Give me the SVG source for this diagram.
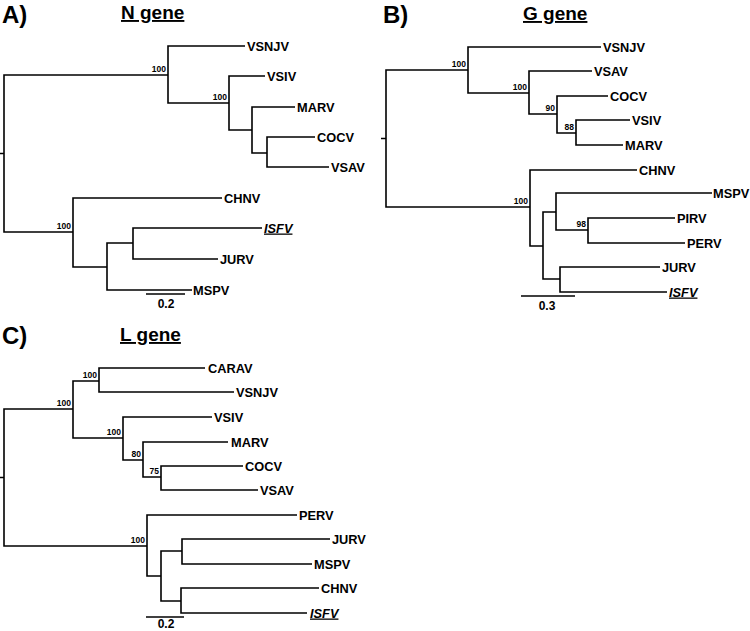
<svg xmlns="http://www.w3.org/2000/svg" width="750" height="631" viewBox="0 0 750 631">
<style>
text{font-family:"Liberation Sans",Arial,sans-serif;font-weight:bold;fill:#000}
.br{fill:none;stroke:#000;stroke-width:1.6}
.lf{font-size:12.8px}
.bs{font-size:8.5px;text-anchor:end}
.pl{font-size:24px}
.tt{font-size:19px;text-decoration:underline}
.it{font-style:italic;text-decoration:underline}
.sc{font-size:12px;text-anchor:middle}
</style>
<rect width="750" height="631" fill="#fff"/>
<g id="panelA">
<text class="pl" x="2" y="23">A)</text>
<text class="tt" x="121" y="19">N gene</text>
<g id="connectorsA">
<path class="br" d="M0 153.5H4M73 232H4V75H168M245 46H168V103H229M265 76H229V130H252M295 107H252V153H267M315 137H267V167H329M222 198H73V267H107M133 243H107V290H192M262 228H133V259H218"/>
<path class="br" d="M146 294H185"/>
</g>
<g id="bootA"><text class="bs" x="166" y="72">100</text><text class="bs" x="227" y="100">100</text><text class="bs" x="71" y="229">100</text></g>
<g id="A-VSNJV"><text class="lf" x="247" y="50.5">VSNJV</text></g>
<g id="A-VSIV"><text class="lf" x="267" y="80.5">VSIV</text></g>
<g id="A-MARV"><text class="lf" x="297" y="111.5">MARV</text></g>
<g id="A-COCV"><text class="lf" x="317" y="141.5">COCV</text></g>
<g id="A-VSAV"><text class="lf" x="331" y="171.5">VSAV</text></g>
<g id="A-CHNV"><text class="lf" x="224" y="202.5">CHNV</text></g>
<g id="A-ISFV"><text class="lf it" x="264" y="232.5">ISFV</text></g>
<g id="A-JURV"><text class="lf" x="220" y="263.5">JURV</text></g>
<g id="A-MSPV"><text class="lf" x="193" y="294.5">MSPV</text></g>
<text class="sc" x="166" y="308">0.2</text>
</g>
<g id="panelB">
<text class="pl" x="383" y="23">B)</text>
<text class="tt" x="523" y="20">G gene</text>
<g id="connectorsB">
<path class="br" d="M381 138.5H386M468 70H386V207H530M601 47H468V93H529M592 71H529V114H557M608 96H557V133H576M630 120H576V145H623M637 170H530V246H543M556 212H543V279H560M712 193H556V230H588M675 218H588V243H685M660 267H560V292H667"/>
<path class="br" d="M521 296H575"/>
</g>
<g id="bootB"><text class="bs" x="466" y="67">100</text><text class="bs" x="527" y="90">100</text><text class="bs" x="555" y="111">90</text><text class="bs" x="574" y="130">88</text><text class="bs" x="528" y="204">100</text><text class="bs" x="586" y="227">98</text></g>
<g id="B-VSNJV"><text class="lf" x="603" y="51.5">VSNJV</text></g>
<g id="B-VSAV"><text class="lf" x="594" y="75.5">VSAV</text></g>
<g id="B-COCV"><text class="lf" x="610" y="100.5">COCV</text></g>
<g id="B-VSIV"><text class="lf" x="632" y="124.5">VSIV</text></g>
<g id="B-MARV"><text class="lf" x="625" y="149.5">MARV</text></g>
<g id="B-CHNV"><text class="lf" x="639" y="174.5">CHNV</text></g>
<g id="B-MSPV"><text class="lf" x="713" y="197.5">MSPV</text></g>
<g id="B-PIRV"><text class="lf" x="677" y="222.5">PIRV</text></g>
<g id="B-PERV"><text class="lf" x="687" y="247.5">PERV</text></g>
<g id="B-JURV"><text class="lf" x="662" y="271.5">JURV</text></g>
<g id="B-ISFV"><text class="lf it" x="669" y="296.5">ISFV</text></g>
<text class="sc" x="547" y="310">0.3</text>
</g>
<g id="panelC">
<text class="pl" x="2" y="344">C)</text>
<text class="tt" x="120" y="341">L gene</text>
<g id="connectorsC">
<path class="br" d="M0 477.5H4M73 409H4V546H147M99 381H73V438H123M205 368H99V392H234M212 417H123V460H143M228 442H143V477H161M243 466H161V490H258M297 515H147V576H161M182 551H161V601H181M330 539H182V564H312M319 588H181V613H307"/>
<path class="br" d="M146 617H184"/>
</g>
<g id="bootC"><text class="bs" x="71" y="406">100</text><text class="bs" x="97" y="378">100</text><text class="bs" x="121" y="435">100</text><text class="bs" x="141" y="457">80</text><text class="bs" x="159" y="474">75</text><text class="bs" x="145" y="543">100</text></g>
<g id="C-CARAV"><text class="lf" x="208" y="372.5">CARAV</text></g>
<g id="C-VSNJV"><text class="lf" x="236" y="396.5">VSNJV</text></g>
<g id="C-VSIV"><text class="lf" x="214" y="421.5">VSIV</text></g>
<g id="C-MARV"><text class="lf" x="231" y="446.5">MARV</text></g>
<g id="C-COCV"><text class="lf" x="245" y="470.5">COCV</text></g>
<g id="C-VSAV"><text class="lf" x="260" y="494.5">VSAV</text></g>
<g id="C-PERV"><text class="lf" x="299" y="519.5">PERV</text></g>
<g id="C-JURV"><text class="lf" x="332" y="543.5">JURV</text></g>
<g id="C-MSPV"><text class="lf" x="314" y="568.5">MSPV</text></g>
<g id="C-CHNV"><text class="lf" x="321" y="592.5">CHNV</text></g>
<g id="C-ISFV"><text class="lf it" x="310" y="617.5">ISFV</text></g>
<text class="sc" x="166" y="627.5">0.2</text>
</g>
</svg>
